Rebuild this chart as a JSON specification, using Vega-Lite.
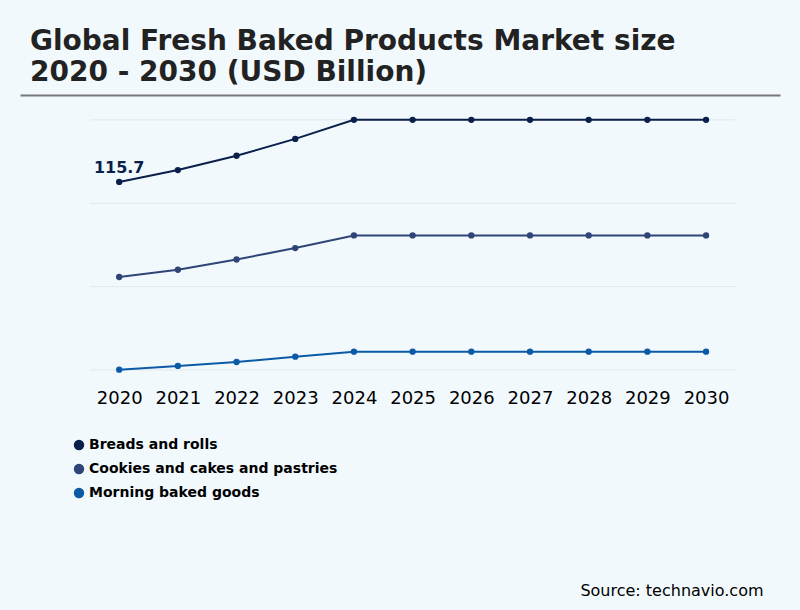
{
  "$schema": "https://vega.github.io/schema/vega-lite/v6.json",
  "description": "Global Fresh Baked Products Market size 2020 - 2030 (USD Billion).",
  "width": 760,
  "height": 275,
  "autosize": "none",
  "padding": {"left": 20, "top": 95, "right": 20, "bottom": 240},
  "background": "#f2f9fd",
  "title": {
    "text": ["Global Fresh Baked Products Market size", "2020 - 2030 (USD Billion)"],
    "anchor": "start",
    "frame": "group",
    "dx": 10,
    "offset": 8,
    "fontSize": 28,
    "lineHeight": 31,
    "font": "DejaVu Sans",
    "fontWeight": "bold",
    "color": "#222222"
  },
  "datasets": {
    "market": [
      {"year": 2020, "segment": "Breads and rolls", "value": 115.7},
      {"year": 2021, "segment": "Breads and rolls", "value": 123.0},
      {"year": 2022, "segment": "Breads and rolls", "value": 131.8},
      {"year": 2023, "segment": "Breads and rolls", "value": 142.2},
      {"year": 2024, "segment": "Breads and rolls", "value": 153.9},
      {"year": 2025, "segment": "Breads and rolls", "value": 153.9},
      {"year": 2026, "segment": "Breads and rolls", "value": 153.9},
      {"year": 2027, "segment": "Breads and rolls", "value": 153.9},
      {"year": 2028, "segment": "Breads and rolls", "value": 153.9},
      {"year": 2029, "segment": "Breads and rolls", "value": 153.9},
      {"year": 2030, "segment": "Breads and rolls", "value": 153.9},
      {"year": 2020, "segment": "Cookies and cakes and pastries", "value": 57.2},
      {"year": 2021, "segment": "Cookies and cakes and pastries", "value": 61.7},
      {"year": 2022, "segment": "Cookies and cakes and pastries", "value": 68.0},
      {"year": 2023, "segment": "Cookies and cakes and pastries", "value": 75.0},
      {"year": 2024, "segment": "Cookies and cakes and pastries", "value": 82.8},
      {"year": 2025, "segment": "Cookies and cakes and pastries", "value": 82.8},
      {"year": 2026, "segment": "Cookies and cakes and pastries", "value": 82.8},
      {"year": 2027, "segment": "Cookies and cakes and pastries", "value": 82.8},
      {"year": 2028, "segment": "Cookies and cakes and pastries", "value": 82.8},
      {"year": 2029, "segment": "Cookies and cakes and pastries", "value": 82.8},
      {"year": 2030, "segment": "Cookies and cakes and pastries", "value": 82.8},
      {"year": 2020, "segment": "Morning baked goods", "value": 0.2},
      {"year": 2021, "segment": "Morning baked goods", "value": 2.5},
      {"year": 2022, "segment": "Morning baked goods", "value": 4.9},
      {"year": 2023, "segment": "Morning baked goods", "value": 8.2},
      {"year": 2024, "segment": "Morning baked goods", "value": 11.3},
      {"year": 2025, "segment": "Morning baked goods", "value": 11.3},
      {"year": 2026, "segment": "Morning baked goods", "value": 11.3},
      {"year": 2027, "segment": "Morning baked goods", "value": 11.3},
      {"year": 2028, "segment": "Morning baked goods", "value": 11.3},
      {"year": 2029, "segment": "Morning baked goods", "value": 11.3},
      {"year": 2030, "segment": "Morning baked goods", "value": 11.3}
    ],
    "grid": [
      {"level": 0},
      {"level": 51.3},
      {"level": 102.6},
      {"level": 153.9}
    ]
  },
  "layer": [
    {
      "data": {"name": "grid"},
      "mark": {"type": "rule", "color": "#e4e7eb", "strokeWidth": 1},
      "encoding": {
        "x": {
          "datum": 2019.5,
          "type": "quantitative",
          "scale": {"domain": [2018.31, 2031.26], "nice": false, "zero": false},
          "axis": {
            "orient": "top",
            "title": null,
            "labels": false,
            "ticks": false,
            "grid": false,
            "domain": true,
            "domainColor": "#777777",
            "domainWidth": 2
          }
        },
        "x2": {"datum": 2030.5},
        "y": {
          "field": "level",
          "type": "quantitative",
          "scale": {"domain": [0, 169.2], "nice": false, "zero": false},
          "axis": null
        }
      }
    },
    {
      "data": {"name": "market"},
      "mark": {"type": "line", "strokeWidth": 2, "point": {"filled": true, "size": 40}},
      "encoding": {
        "x": {
          "field": "year",
          "type": "quantitative",
          "axis": {
            "orient": "bottom",
            "values": [2020, 2021, 2022, 2023, 2024, 2025, 2026, 2027, 2028, 2029, 2030],
            "format": "d",
            "domain": false,
            "ticks": false,
            "grid": false,
            "labelFont": "DejaVu Sans",
            "labelFontSize": 18,
            "labelColor": "#000000",
            "labelPadding": 19,
            "labelOverlap": false,
            "labelFlush": false,
            "title": "Source: technavio.com",
            "titleFont": "DejaVu Sans",
            "titleFontSize": 16,
            "titleFontWeight": "normal",
            "titleColor": "#000000",
            "titleAnchor": "end",
            "titleAlign": "right",
            "titleBaseline": "alphabetic",
            "titleX": 743,
            "titleY": 225
          }
        },
        "y": {"field": "value", "type": "quantitative", "axis": null},
        "color": {
          "field": "segment",
          "type": "nominal",
          "scale": {
            "domain": ["Breads and rolls", "Cookies and cakes and pastries", "Morning baked goods"],
            "range": ["#0b1f4b", "#2f4577", "#0b5aa6"]
          },
          "legend": {
            "orient": "none",
            "legendX": 52,
            "legendY": 343,
            "title": null,
            "symbolType": "circle",
            "symbolSize": 80,
            "symbolOpacity": 1,
            "labelFont": "DejaVu Sans",
            "labelFontSize": 14,
            "labelFontWeight": "bold",
            "labelColor": "#000000",
            "labelOffset": 3,
            "labelLimit": 400,
            "rowPadding": 8
          }
        }
      }
    },
    {
      "data": {"name": "market"},
      "transform": [
        {"filter": "datum.year == 2020 && datum.segment == 'Breads and rolls'"}
      ],
      "mark": {
        "type": "text",
        "align": "center",
        "baseline": "alphabetic",
        "dy": -9,
        "font": "DejaVu Sans",
        "fontSize": 16,
        "fontWeight": "bold",
        "color": "#0b1f4b"
      },
      "encoding": {
        "x": {"field": "year", "type": "quantitative", "axis": null},
        "y": {"field": "value", "type": "quantitative", "axis": null},
        "text": {"field": "value", "type": "quantitative", "format": ".1f"}
      }
    }
  ],
  "resolve": {"axis": {"x": "independent"}},
  "config": {
    "font": "DejaVu Sans",
    "view": {"stroke": null}
  }
}
